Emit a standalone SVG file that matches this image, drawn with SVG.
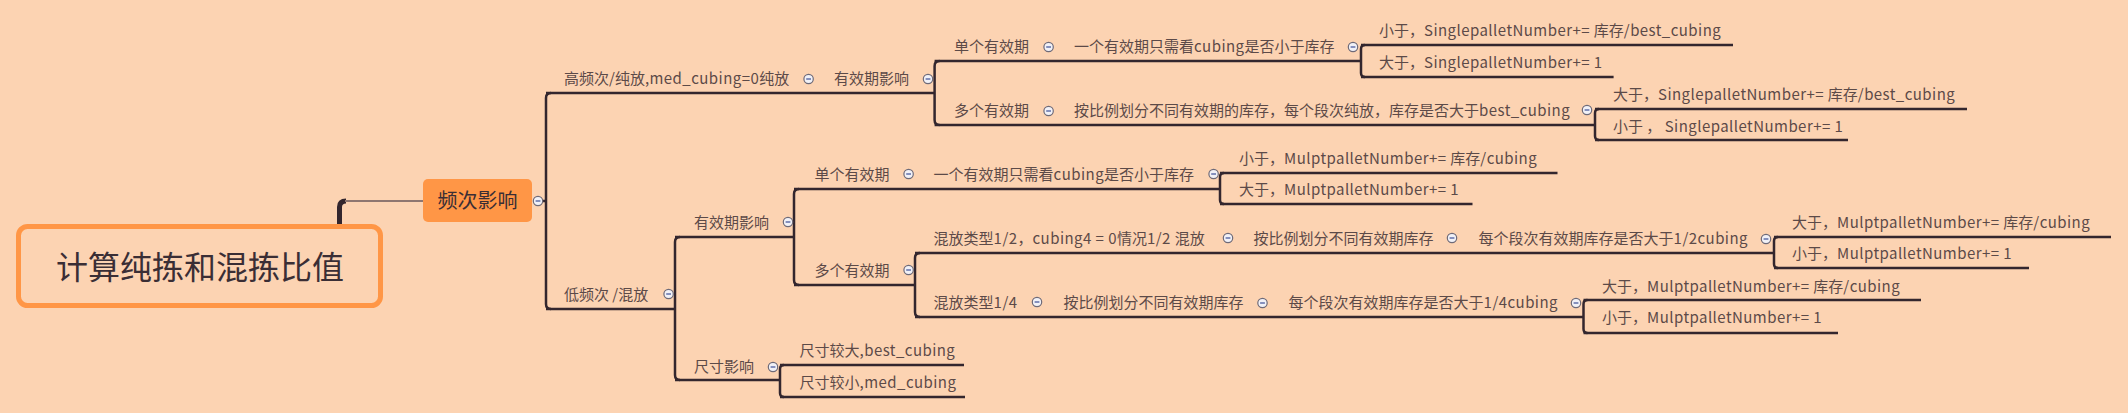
<svg xmlns="http://www.w3.org/2000/svg" xmlns:xlink="http://www.w3.org/1999/xlink" width="2128" height="413" viewBox="0 0 2128 413">
<style>
.t{font-family:"Noto Sans CJK SC","Noto Sans",sans-serif;font-size:15px;fill:#5C4A48}
.lt{letter-spacing:0.45px}
.ul{stroke:#33262E;stroke-width:2.5;fill:none}
.br{stroke:#33262E;stroke-width:2.5;fill:none}
</style>
<defs>
<g id="mn"><circle r="4.7" fill="#F1F1F7" stroke="#6E6A78" stroke-width="1.2"/><line x1="-2.4" y1="0" x2="2.4" y2="0" stroke="#4B5C9E" stroke-width="1.3"/></g>
</defs>
<rect width="2128" height="413" fill="#FCD3B2"/>
<g id="connectors">
<path d="M339.5,224 V207 Q339.5,201 346,201" stroke="#33262E" stroke-width="5" fill="none"/>
<path d="M345,201 H423" stroke="#8E7670" stroke-width="2" fill="none"/>
<path class="br" d="M542,201 H546"/>
<path class="br" d="M551,93 Q546,93 546,98 V304 Q546,309 551,309"/>
<path class="br" d="M939.6,61 Q934.6,61 934.6,66 V120 Q934.6,125 939.6,125"/>
<path class="br" d="M1365,45 Q1361,45 1361,49 V73 Q1361,77 1365,77"/>
<path class="br" d="M1599,109 Q1595,109 1595,113 V136 Q1595,140 1599,140"/>
<path class="br" d="M680,237 Q675,237 675,242 V375 Q675,380 680,380"/>
<path class="br" d="M799,189 Q794,189 794,194 V280 Q794,285 799,285"/>
<path class="br" d="M1224,173 Q1220,173 1220,177 V200 Q1220,204 1224,204"/>
<path class="br" d="M920,253 Q915,253 915,258 V312 Q915,317 920,317"/>
<path class="br" d="M1778,237 Q1774,237 1774,241 V264 Q1774,268 1778,268"/>
<path class="br" d="M1587.5,300 Q1583.5,300 1583.5,304 V329 Q1583.5,333 1587.5,333"/>
<path class="br" d="M784,365 Q780,365 780,369 V393 Q780,397 784,397"/>
</g>
<g id="root">
<rect x="18.5" y="226.5" width="362" height="79" rx="9" fill="none" stroke="#FF9646" stroke-width="5"/>
<text x="200" y="279" text-anchor="middle" style="font-family:'Noto Sans CJK SC',sans-serif;font-size:32px;fill:#3A2E35">计算纯拣和混拣比值</text>
</g>
<g id="freq">
<rect x="423" y="179" width="109" height="43" rx="5" fill="#FF9646"/>
<text x="477.5" y="208" text-anchor="middle" style="font-family:'Noto Sans CJK SC',sans-serif;font-size:20px;fill:#3A2E35">频次影响</text>
<use xlink:href="#mn" x="538" y="201"/>
</g>
<g id="n_high"><path class="ul" d="M546,93 H818"/><text class="t" x="564" y="84">高频次/纯放<tspan class="lt">,med_cubing=0</tspan>纯放</text><use xlink:href="#mn" x="808.6" y="79"/></g>
<g id="n_exp1"><path class="ul" d="M818,93 H934.6"/><text class="t" x="834" y="84">有效期影响</text><use xlink:href="#mn" x="928" y="79"/></g>
<g id="n_single1"><path class="ul" d="M934.6,61 H1062"/><text class="t" x="954" y="52">单个有效期</text><use xlink:href="#mn" x="1048.6" y="47"/></g>
<g id="n_single1_d"><path class="ul" d="M1062,61 H1361"/><text class="t" x="1074" y="52">一个有效期只需看<tspan class="lt">cubing</tspan>是否小于库存</text><use xlink:href="#mn" x="1353" y="47"/></g>
<g id="l1"><path class="ul" d="M1361,45 H1733"/><text class="t" x="1379" y="36">小于，<tspan class="lt">SinglepalletNumber+= </tspan>库存<tspan class="lt">/best_cubing</tspan></text></g>
<g id="l2"><path class="ul" d="M1361,77 H1613.6"/><text class="t" x="1379" y="68">大于，<tspan class="lt">SinglepalletNumber+= 1</tspan></text></g>
<g id="n_multi1"><path class="ul" d="M934.6,125 H1062"/><text class="t" x="954" y="116">多个有效期</text><use xlink:href="#mn" x="1048.6" y="111"/></g>
<g id="n_multi1_d"><path class="ul" d="M1062,125 H1595"/><text class="t" x="1074" y="116">按比例划分不同有效期的库存，每个段次纯放，库存是否大于<tspan class="lt">best_cubing</tspan></text><use xlink:href="#mn" x="1587" y="110"/></g>
<g id="l3"><path class="ul" d="M1595,109 H1967"/><text class="t" x="1613" y="100">大于，<tspan class="lt">SinglepalletNumber+= </tspan>库存<tspan class="lt">/best_cubing</tspan></text></g>
<g id="l4"><path class="ul" d="M1595,140 H1848"/><text class="t" x="1613" y="132">小于 ， <tspan class="lt">SinglepalletNumber+= 1</tspan></text></g>
<g id="n_low"><path class="ul" d="M546,309 H675"/><text class="t" x="564" y="300">低频次 /混放</text><use xlink:href="#mn" x="668.6" y="294"/></g>
<g id="n_exp2"><path class="ul" d="M675,237 H794"/><text class="t" x="694" y="228">有效期影响</text><use xlink:href="#mn" x="788" y="222"/></g>
<g id="n_single2"><path class="ul" d="M794,189 H921"/><text class="t" x="814.6" y="180">单个有效期</text><use xlink:href="#mn" x="908.6" y="174"/></g>
<g id="n_single2_d"><path class="ul" d="M921,189 H1220"/><text class="t" x="933.6" y="180">一个有效期只需看<tspan class="lt">cubing</tspan>是否小于库存</text><use xlink:href="#mn" x="1213.6" y="174"/></g>
<g id="l5"><path class="ul" d="M1220,173 H1557.5"/><text class="t" x="1239" y="164">小于，<tspan class="lt">MulptpalletNumber+= </tspan>库存<tspan class="lt">/cubing</tspan></text></g>
<g id="l6"><path class="ul" d="M1220,204 H1472.5"/><text class="t" x="1239" y="195">大于，<tspan class="lt">MulptpalletNumber+= 1</tspan></text></g>
<g id="n_multi2"><path class="ul" d="M794,285 H915"/><text class="t" x="814.6" y="276">多个有效期</text><use xlink:href="#mn" x="908.6" y="270"/></g>
<g id="n_mix12"><path class="ul" d="M915,253 H1240"/><text class="t" x="933.6" y="244">混放类型<tspan class="lt">1/2</tspan>，<tspan class="lt">cubing4 = 0</tspan>情况<tspan class="lt">1/2 </tspan>混放</text><use xlink:href="#mn" x="1228" y="238"/></g>
<g id="n_mix12_a"><path class="ul" d="M1240,253 H1465"/><text class="t" x="1253.6" y="244">按比例划分不同有效期库存</text><use xlink:href="#mn" x="1452" y="238"/></g>
<g id="n_mix12_b"><path class="ul" d="M1465,253 H1774"/><text class="t" x="1478.6" y="244">每个段次有效期库存是否大于<tspan class="lt">1/2cubing</tspan></text><use xlink:href="#mn" x="1766" y="239"/></g>
<g id="l7"><path class="ul" d="M1774,237 H2111"/><text class="t" x="1792" y="228">大于，<tspan class="lt">MulptpalletNumber+= </tspan>库存<tspan class="lt">/cubing</tspan></text></g>
<g id="l8"><path class="ul" d="M1774,268 H2029"/><text class="t" x="1792" y="259">小于，<tspan class="lt">MulptpalletNumber+= 1</tspan></text></g>
<g id="n_mix14"><path class="ul" d="M915,317 H1050"/><text class="t" x="933.6" y="308">混放类型<tspan class="lt">1/4</tspan></text><use xlink:href="#mn" x="1037" y="302"/></g>
<g id="n_mix14_a"><path class="ul" d="M1050,317 H1275"/><text class="t" x="1063.6" y="308">按比例划分不同有效期库存</text><use xlink:href="#mn" x="1262.5" y="303"/></g>
<g id="n_mix14_b"><path class="ul" d="M1275,317 H1583.5"/><text class="t" x="1288.6" y="308">每个段次有效期库存是否大于<tspan class="lt">1/4cubing</tspan></text><use xlink:href="#mn" x="1576" y="303"/></g>
<g id="l9"><path class="ul" d="M1583.5,300 H1921"/><text class="t" x="1602" y="292">大于，<tspan class="lt">MulptpalletNumber+= </tspan>库存<tspan class="lt">/cubing</tspan></text></g>
<g id="l10"><path class="ul" d="M1583.5,333 H1838"/><text class="t" x="1602" y="323">小于，<tspan class="lt">MulptpalletNumber+= 1</tspan></text></g>
<g id="n_size"><path class="ul" d="M675,380 H780"/><text class="t" x="694" y="372">尺寸影响</text><use xlink:href="#mn" x="773" y="367"/></g>
<g id="l11"><path class="ul" d="M780,365 H964"/><text class="t" x="799.6" y="356">尺寸较大<tspan class="lt">,best_cubing</tspan></text></g>
<g id="l12"><path class="ul" d="M780,397 H965"/><text class="t" x="799.6" y="388">尺寸较小<tspan class="lt">,med_cubing</tspan></text></g>
</svg>
